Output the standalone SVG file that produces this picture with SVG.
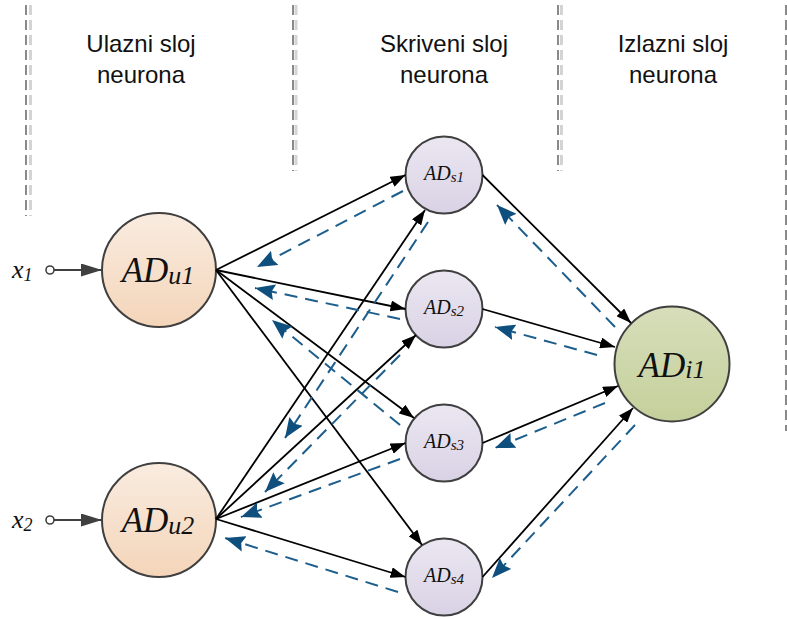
<svg xmlns="http://www.w3.org/2000/svg" width="787" height="619" viewBox="0 0 787 619">
<style>
.pd{stroke:#8a8a8a;stroke-width:2;stroke-dasharray:10 5;fill:none}
.pl{stroke:#d4d4d4;stroke-width:3;stroke-dasharray:10 5;fill:none}
.hdr{font-family:"Liberation Sans",Arial,sans-serif;font-size:24px;fill:#111;text-anchor:middle}
.lbl{font-family:"Liberation Serif","Times New Roman",serif;font-style:italic;text-anchor:middle;fill:#111}
.node circle{stroke:#3f3f3f;stroke-width:2}
.fwd{stroke:#000;stroke-width:1.8;fill:none;marker-end:url(#ah)}
.bwd{stroke:#1d5e8c;stroke-width:2;stroke-dasharray:13 8;fill:none;marker-end:url(#ab)}
.inp{stroke:#404040;stroke-width:2;fill:none}
</style>
<defs>
<linearGradient id="gU" x1="0" y1="0" x2="0" y2="1"><stop offset="0" stop-color="#f9ece0"/><stop offset="1" stop-color="#f4d5b9"/></linearGradient>
<linearGradient id="gS" x1="0" y1="0" x2="0" y2="1"><stop offset="0" stop-color="#ebe7f1"/><stop offset="1" stop-color="#d9d2e5"/></linearGradient>
<linearGradient id="gI" x1="0" y1="0" x2="0" y2="1"><stop offset="0" stop-color="#d7deba"/><stop offset="1" stop-color="#c4d09b"/></linearGradient>
<marker id="ah" markerUnits="userSpaceOnUse" markerWidth="16" markerHeight="11" refX="15" refY="5.5" orient="auto"><path d="M0,0 L15,5.5 L0,11 z" fill="#000"/></marker>
<marker id="ab" markerUnits="userSpaceOnUse" markerWidth="21" markerHeight="16" refX="20" refY="8" orient="auto"><path d="M0,0 L20,8 L0,16 L3,8 z" fill="#0e4f7e"/></marker>
<marker id="ai" markerUnits="userSpaceOnUse" markerWidth="22" markerHeight="13" refX="21" refY="6.5" orient="auto"><path d="M0,0 L21,6.5 L0,13 z" fill="#404040"/></marker>
</defs>
<rect width="787" height="619" fill="#fff"/>

<g id="partitions">
<line class="pl" x1="30.5" y1="5" x2="30.5" y2="216"/>
<line class="pd" x1="26" y1="5" x2="26" y2="216"/>
<line class="pl" x1="296" y1="5" x2="296" y2="171"/>
<line class="pd" x1="293" y1="5" x2="293" y2="171"/>
<line class="pl" x1="561.5" y1="5" x2="561.5" y2="171"/>
<line class="pd" x1="558" y1="5" x2="558" y2="171"/>
<line class="pd" x1="786" y1="5" x2="786" y2="431"/>
</g>

<g id="headers">
<text class="hdr" x="141" y="52">Ulazni sloj</text>
<text class="hdr" x="141" y="83">neurona</text>
<text class="hdr" x="444" y="52">Skriveni sloj</text>
<text class="hdr" x="444" y="83">neurona</text>
<text class="hdr" x="673" y="52">Izlazni sloj</text>
<text class="hdr" x="673" y="83">neurona</text>
</g>

<g id="input-x1">
<circle cx="50" cy="270" r="4" fill="#fff" stroke="#404040" stroke-width="1.6"/>
<line class="inp" x1="54" y1="270" x2="102" y2="270" marker-end="url(#ai)"/>
<text class="lbl" x="12" y="278" style="text-anchor:start;font-size:26px">x<tspan style="font-size:18px" dy="3">1</tspan></text>
</g>
<g id="input-x2">
<circle cx="50" cy="520" r="4" fill="#fff" stroke="#404040" stroke-width="1.6"/>
<line class="inp" x1="54" y1="520" x2="102" y2="520" marker-end="url(#ai)"/>
<text class="lbl" x="12" y="528" style="text-anchor:start;font-size:26px">x<tspan style="font-size:18px" dy="3">2</tspan></text>
</g>

<g id="ADu1" class="node">
<circle cx="159" cy="270" r="57" fill="url(#gU)"/>
<text class="lbl" x="158" y="282" style="font-size:35px">AD<tspan style="font-size:26px" dy="2">u1</tspan></text>
</g>
<g id="ADu2" class="node">
<circle cx="159" cy="520" r="57" fill="url(#gU)"/>
<text class="lbl" x="158" y="532" style="font-size:35px">AD<tspan style="font-size:26px" dy="2">u2</tspan></text>
</g>
<g id="ADs1" class="node">
<circle cx="444" cy="175" r="38.5" fill="url(#gS)"/>
<text class="lbl" x="444" y="180" style="font-size:20px">AD<tspan style="font-size:15px" dy="2">s1</tspan></text>
</g>
<g id="ADs2" class="node">
<circle cx="444" cy="309" r="38.5" fill="url(#gS)"/>
<text class="lbl" x="444" y="314" style="font-size:20px">AD<tspan style="font-size:15px" dy="2">s2</tspan></text>
</g>
<g id="ADs3" class="node">
<circle cx="444" cy="443" r="38.5" fill="url(#gS)"/>
<text class="lbl" x="444" y="448" style="font-size:20px">AD<tspan style="font-size:15px" dy="2">s3</tspan></text>
</g>
<g id="ADs4" class="node">
<circle cx="444" cy="577" r="38.5" fill="url(#gS)"/>
<text class="lbl" x="444" y="582" style="font-size:20px">AD<tspan style="font-size:15px" dy="2">s4</tspan></text>
</g>
<g id="ADi1" class="node">
<circle cx="672" cy="364" r="57.5" fill="url(#gI)"/>
<text class="lbl" x="672" y="377" style="font-size:35px">AD<tspan style="font-size:26px" dy="1">i1</tspan></text>
</g>

<g id="connectors">
<line class="fwd" x1="216" y1="270" x2="405.5" y2="175"/>
<line class="fwd" x1="216" y1="270" x2="405.5" y2="309"/>
<line class="fwd" x1="216" y1="270" x2="414" y2="418"/>
<line class="fwd" x1="216" y1="270" x2="422" y2="545"/>
<line class="fwd" x1="216" y1="519" x2="425" y2="210"/>
<line class="fwd" x1="216" y1="519" x2="416" y2="335"/>
<line class="fwd" x1="216" y1="519" x2="405.5" y2="443"/>
<line class="fwd" x1="216" y1="519" x2="405.5" y2="577"/>
<line class="fwd" x1="482.5" y1="175" x2="631" y2="323"/>
<line class="fwd" x1="482.5" y1="309" x2="615" y2="347"/>
<line class="fwd" x1="482.5" y1="443" x2="618" y2="386"/>
<line class="fwd" x1="482.5" y1="577" x2="633" y2="408"/>

<line class="bwd" x1="615" y1="327" x2="497" y2="205"/>
<line class="bwd" x1="597" y1="355" x2="495" y2="327"/>
<line class="bwd" x1="605" y1="403" x2="495" y2="448"/>
<line class="bwd" x1="635" y1="425" x2="492" y2="578"/>
<line class="bwd" x1="403" y1="191" x2="257" y2="267"/>
<line class="bwd" x1="400" y1="319" x2="255" y2="288"/>
<line class="bwd" x1="400" y1="425" x2="272" y2="320"/>
<line class="bwd" x1="428" y1="222" x2="285" y2="438"/>
<line class="bwd" x1="400" y1="355" x2="265" y2="492"/>
<line class="bwd" x1="400" y1="459" x2="241" y2="517"/>
<line class="bwd" x1="398" y1="592" x2="225" y2="538"/>
</g>
</svg>
